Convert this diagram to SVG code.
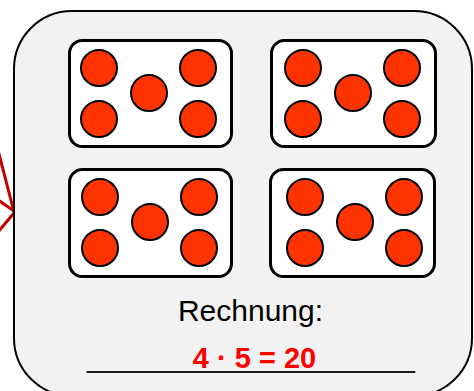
<svg xmlns="http://www.w3.org/2000/svg" width="474" height="391" viewBox="0 0 474 391">
<style>
.die{fill:#fff;stroke:#000;stroke-width:3}
.dot{fill:#ff3300;stroke:#000;stroke-width:2}
.con{stroke:#c00000;stroke-width:3;fill:none}
</style>
<defs>
<g id="five">
<circle class="dot" cx="30" cy="28" r="18"/>
<circle class="dot" cx="129" cy="28" r="18"/>
<circle class="dot" cx="80" cy="53" r="18"/>
<circle class="dot" cx="30" cy="79" r="18"/>
<circle class="dot" cx="129" cy="79" r="18"/>
</g>
</defs>
<rect width="474" height="391" fill="#fff"/>
<g id="connectors">
<line class="con" x1="-2" y1="150" x2="14" y2="212"/>
<line class="con" x1="-2" y1="200" x2="14" y2="211"/>
<line class="con" x1="-2" y1="232" x2="14" y2="213"/>
</g>
<g id="card">
<rect x="14" y="11" width="458" height="385" rx="58" fill="#f2f2f2" stroke="#000" stroke-width="2"/>
</g>
<g id="die1">
<rect class="die" x="69.5" y="40.5" width="162" height="106" rx="13"/>
<use href="#five" x="69" y="40"/>
</g>
<g id="die2">
<rect class="die" x="271.5" y="40.5" width="164" height="106" rx="13"/>
<use href="#five" x="273" y="40"/>
</g>
<g id="die3">
<rect class="die" x="69.5" y="169.5" width="162" height="107" rx="13"/>
<use href="#five" x="70" y="169"/>
</g>
<g id="die4">
<rect class="die" x="270.5" y="169.5" width="164" height="107" rx="13"/>
<use href="#five" x="275" y="169"/>
</g>
<g id="label">
<text x="250.5" y="321" font-family="Liberation Sans, Arial, sans-serif" font-size="30" text-anchor="middle" fill="#000">Rechnung:</text>
<text x="87" y="367" font-family="Liberation Sans, Arial, sans-serif" font-size="29" textLength="328" lengthAdjust="spacingAndGlyphs" fill="#1a1a1a">____________________</text>
<text x="254.5" y="368" font-family="Liberation Sans, Arial, sans-serif" font-size="29" font-weight="bold" text-anchor="middle" fill="#ff0000">4 · 5 = 20</text>
</g>
</svg>
